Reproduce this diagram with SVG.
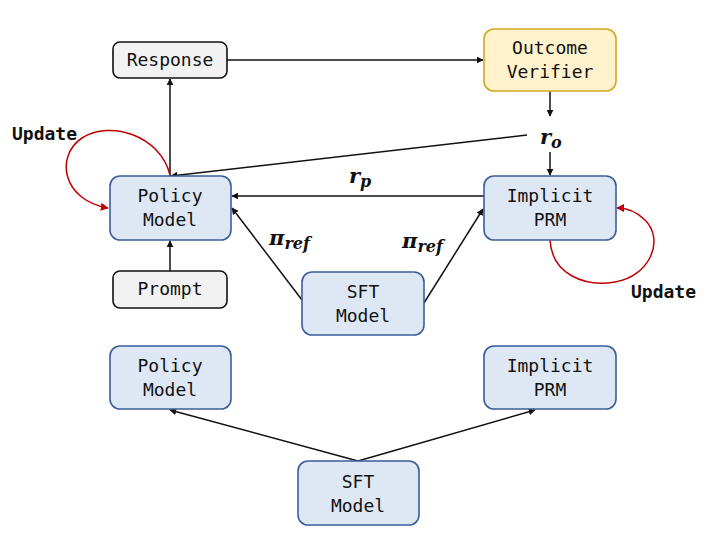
<svg xmlns="http://www.w3.org/2000/svg" width="722" height="545" viewBox="0 0 722 545">
<style>
.box{stroke-width:1.6}
.blue{fill:#dee8f5;stroke:#3b5e9b}
.grey{fill:#f2f2f2;stroke:#111}
.gold{fill:#fff2cc;stroke:#d2a81e}
.t{font-family:"DejaVu Sans Mono","Liberation Mono",monospace;font-size:18px;fill:#111;text-anchor:middle}
.b{font-family:"DejaVu Sans Mono","Liberation Mono",monospace;font-size:18px;font-weight:bold;fill:#111}
.m{font-family:"DejaVu Serif","Liberation Serif",serif;font-style:italic;font-weight:bold;fill:#111}
.c{fill:none;stroke:#111;stroke-width:1.5}
.r{fill:none;stroke:#c00000;stroke-width:1.5}
</style>
<defs>
<marker id="ah" viewBox="0 0 10 10" refX="9" refY="5" markerWidth="7" markerHeight="7" markerUnits="userSpaceOnUse" orient="auto"><path d="M0,0 L10,5 L0,10 z" fill="#111"/></marker>
<marker id="rh" viewBox="0 0 10 10" refX="9" refY="5" markerWidth="8" markerHeight="8" markerUnits="userSpaceOnUse" orient="auto"><path d="M0,0 L10,5 L0,10 z" fill="#c00000"/></marker>
</defs>
<rect width="722" height="545" fill="#fff"/>
<g id="connectors">
<path class="c" d="M227,60 H483" marker-end="url(#ah)"/>
<path class="c" d="M550,91 V116" marker-end="url(#ah)"/>
<path class="c" d="M550,152 V175" marker-end="url(#ah)"/>
<path class="c" d="M527,135 L171,176" marker-end="url(#ah)"/>
<path class="c" d="M170,176 V79" marker-end="url(#ah)"/>
<path class="c" d="M170,271 V241" marker-end="url(#ah)"/>
<path class="c" d="M484,196 H232" marker-end="url(#ah)"/>
<path class="c" d="M302,300 L232,208" marker-end="url(#ah)"/>
<path class="c" d="M424,303 L483,209" marker-end="url(#ah)"/>
<path class="c" d="M358,461 L170,410" marker-end="url(#ah)"/>
<path class="c" d="M358,461 L535,410" marker-end="url(#ah)"/>
<path class="r" d="M170,175 C160,135 110,120 82,138 C55,156 62,200 108,208" marker-end="url(#rh)"/>
<path class="r" d="M550,240 C552,275 585,287 615,282 C650,276 665,240 645,220 C637,212 628,208 617,208" marker-end="url(#rh)"/>
</g>
<g id="labels">
<text class="b" x="12" y="140">Update</text>
<text class="b" x="631" y="298">Update</text>
<text class="m" x="540" y="144" font-size="21">r<tspan font-size="16" dy="4">o</tspan></text>
<text class="m" x="349" y="183" font-size="21">r<tspan font-size="16" dy="4">p</tspan></text>
<text class="m" x="269" y="245" font-size="21">π<tspan font-size="16" dy="4">ref</tspan></text>
<text class="m" x="402" y="248" font-size="21">π<tspan font-size="16" dy="4">ref</tspan></text>
</g>
<g id="response"><rect class="box grey" x="113" y="42" width="114" height="36" rx="7"/><text class="t" x="170" y="66">Response</text></g>
<g id="outcome-verifier"><rect class="box gold" x="484" y="29" width="132" height="62" rx="10"/><text class="t" x="550" y="54">Outcome</text><text class="t" x="550" y="78">Verifier</text></g>
<g id="policy-model"><rect class="box blue" x="110" y="176" width="121" height="64" rx="10"/><text class="t" x="170" y="202">Policy</text><text class="t" x="170" y="226">Model</text></g>
<g id="implicit-prm"><rect class="box blue" x="484" y="176" width="132" height="64" rx="10"/><text class="t" x="550" y="202">Implicit</text><text class="t" x="550" y="226">PRM</text></g>
<g id="prompt"><rect class="box grey" x="113" y="271" width="114" height="37" rx="7"/><text class="t" x="170" y="295">Prompt</text></g>
<g id="sft-model"><rect class="box blue" x="302" y="272" width="122" height="63" rx="10"/><text class="t" x="363" y="298">SFT</text><text class="t" x="363" y="322">Model</text></g>
<g id="policy-model-2"><rect class="box blue" x="110" y="346" width="121" height="63" rx="10"/><text class="t" x="170" y="372">Policy</text><text class="t" x="170" y="396">Model</text></g>
<g id="implicit-prm-2"><rect class="box blue" x="484" y="346" width="132" height="63" rx="10"/><text class="t" x="550" y="372">Implicit</text><text class="t" x="550" y="396">PRM</text></g>
<g id="sft-model-2"><rect class="box blue" x="298" y="461" width="121" height="64" rx="10"/><text class="t" x="358" y="488">SFT</text><text class="t" x="358" y="512">Model</text></g>
</svg>
